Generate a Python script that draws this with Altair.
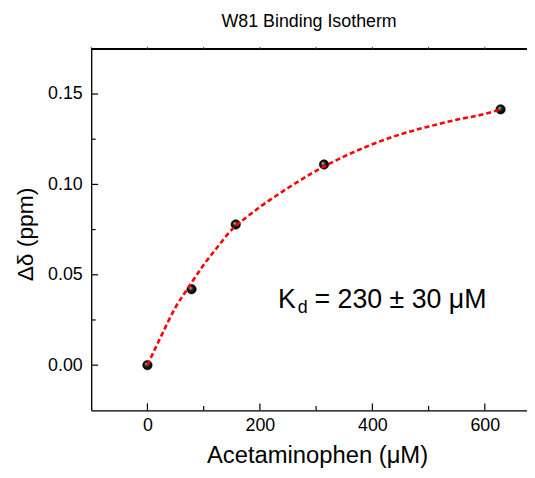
import altair as alt
import pandas as pd

# measured data points
conc = [0, 78.5, 157, 314, 628]
shift = [0.000, 0.042, 0.0778, 0.111, 0.1415]

# fitted curve
fit_conc = [0, 25, 50, 75, 100, 125, 150, 175, 200, 250, 300, 350, 400, 450, 500, 550, 600, 628]
fit_shift = [0.0, 0.0165, 0.032, 0.044, 0.0555, 0.0655, 0.075, 0.0815, 0.0875, 0.098, 0.1075,
             0.1155, 0.1222, 0.1277, 0.132, 0.1358, 0.139, 0.1415]

x_major = [0, 200, 400, 600]
x_minor = [100, 300, 500]
x_top = [-100, 0, 100, 200, 300, 400, 500, 600]
y_major = [0.00, 0.05, 0.10, 0.15]
y_minor = [0.025, 0.075, 0.125]

chart_title = "W81 Binding Isotherm"
x_title = "Acetaminophen (\u03bcM)"
y_title = "\u0394\u03b4 (ppm)"
kd_main = "K"
kd_sub = "d"
kd_rest = "= 230 \u00b1 30 \u03bcM"
kd_pos_x = [232]
kd_pos_y = [0.0315]

FONT = "Liberation Sans"
W, H = 440, 365

pts = pd.DataFrame({"conc": conc, "shift": shift})
fit = pd.DataFrame({"conc": fit_conc, "shift": fit_shift})
xmaj = pd.DataFrame({"v": x_major})
xmin = pd.DataFrame({"v": x_minor})
xtop = pd.DataFrame({"v": x_top})
ymaj = pd.DataFrame({"v": y_major})
ymin = pd.DataFrame({"v": y_minor})
kd = pd.DataFrame({"x": kd_pos_x, "y": kd_pos_y})

xscale = alt.Scale(domain=[-100, 675], nice=False, zero=False)
yscale = alt.Scale(domain=[-0.025, 0.175], nice=False, zero=False)

xaxis = alt.Axis(values=x_major, format="d", ticks=False, tickSize=0, grid=False,
                 labelFont=FONT, labelFontSize=18, labelColor="black", labelPadding=6,
                 domainColor="black", domainWidth=1.3,
                 title=x_title, titleFont=FONT, titleFontSize=24, titleFontWeight="normal",
                 titleColor="black", titlePadding=10, titleX=228)
yaxis = alt.Axis(values=y_major, format=".2f", ticks=False, tickSize=0, grid=False,
                 labelFont=FONT, labelFontSize=18, labelColor="black", labelPadding=9,
                 domainColor="black", domainWidth=1.3,
                 title=y_title, titleFont=FONT, titleFontSize=23, titleFontWeight="normal",
                 titleColor="black", titlePadding=10, titleY=187)


def X(field):
    return alt.X(field, type="quantitative", scale=xscale, axis=xaxis)


def Y(field):
    return alt.Y(field, type="quantitative", scale=yscale, axis=yaxis)


tick_style = dict(color="black", strokeWidth=1.2)

xt_major = alt.Chart(xmaj).mark_rule(**tick_style).encode(
    x=X("v"), y=alt.value(H), y2=alt.value(H - 7))
xt_minor = alt.Chart(xmin).mark_rule(**tick_style).encode(
    x=X("v"), y=alt.value(H), y2=alt.value(H - 4.5))
yt_major = alt.Chart(ymaj).mark_rule(**tick_style).encode(
    y=Y("v"), x=alt.value(0), x2=alt.value(7))
yt_minor = alt.Chart(ymin).mark_rule(**tick_style).encode(
    y=Y("v"), x=alt.value(0), x2=alt.value(4.5))
top_line = alt.Chart(xtop).mark_rule(color="black", strokeWidth=1.3).encode(
    x=alt.value(0), x2=alt.value(W), y=alt.value(0))
top_ticks = alt.Chart(xtop).mark_rule(color="#555555", strokeWidth=1).encode(
    x=X("v"), y=alt.value(0), y2=alt.value(-2))

grad = alt.RadialGradient(
    gradient="radial",
    stops=[alt.GradientStop(color="#cfcfcf", offset=0),
           alt.GradientStop(color="#202020", offset=0.45),
           alt.GradientStop(color="#000000", offset=1)],
    x1=0.35, y1=0.35, r1=0, x2=0.5, y2=0.5, r2=0.5)

points = alt.Chart(pts).mark_circle(size=90, fill=grad, opacity=1, stroke="black",
                                     strokeWidth=0.6).encode(x=X("conc"), y=Y("shift"))

curve = alt.Chart(fit).mark_line(color="#ff0000", strokeWidth=2.6, strokeDash=[5, 3],
                                 interpolate="monotone").encode(x=X("conc"), y=Y("shift"))

txt_k = alt.Chart(kd).mark_text(text=kd_main, font=FONT, fontSize=27, align="left",
                                baseline="alphabetic", color="black").encode(x=X("x"), y=Y("y"))
txt_d = alt.Chart(kd).mark_text(text=kd_sub, font=FONT, fontSize=18, align="left",
                                baseline="alphabetic", color="black", dx=20, dy=5).encode(
    x=X("x"), y=Y("y"))
txt_rest = alt.Chart(kd).mark_text(text=kd_rest, font=FONT, fontSize=27, align="left",
                                   baseline="alphabetic", color="black", dx=37).encode(
    x=X("x"), y=Y("y"))

chart = alt.layer(
    xt_major, xt_minor, yt_major, yt_minor, top_line, top_ticks,
    points, curve, txt_k, txt_d, txt_rest
).properties(
    width=W, height=H,
    title=alt.TitleParams(chart_title, font=FONT, fontSize=18, fontWeight="normal",
                          color="black", anchor="middle", frame="group",
                          baseline="top", offset=16),
    autosize=alt.AutoSizeParams(type="none"),
    padding={"left": 84, "top": 39, "right": 0, "bottom": 58},
).configure_view(stroke=None).configure(background="white")

chart.save("out.html", embed_options={"renderer": "svg", "actions": False})
